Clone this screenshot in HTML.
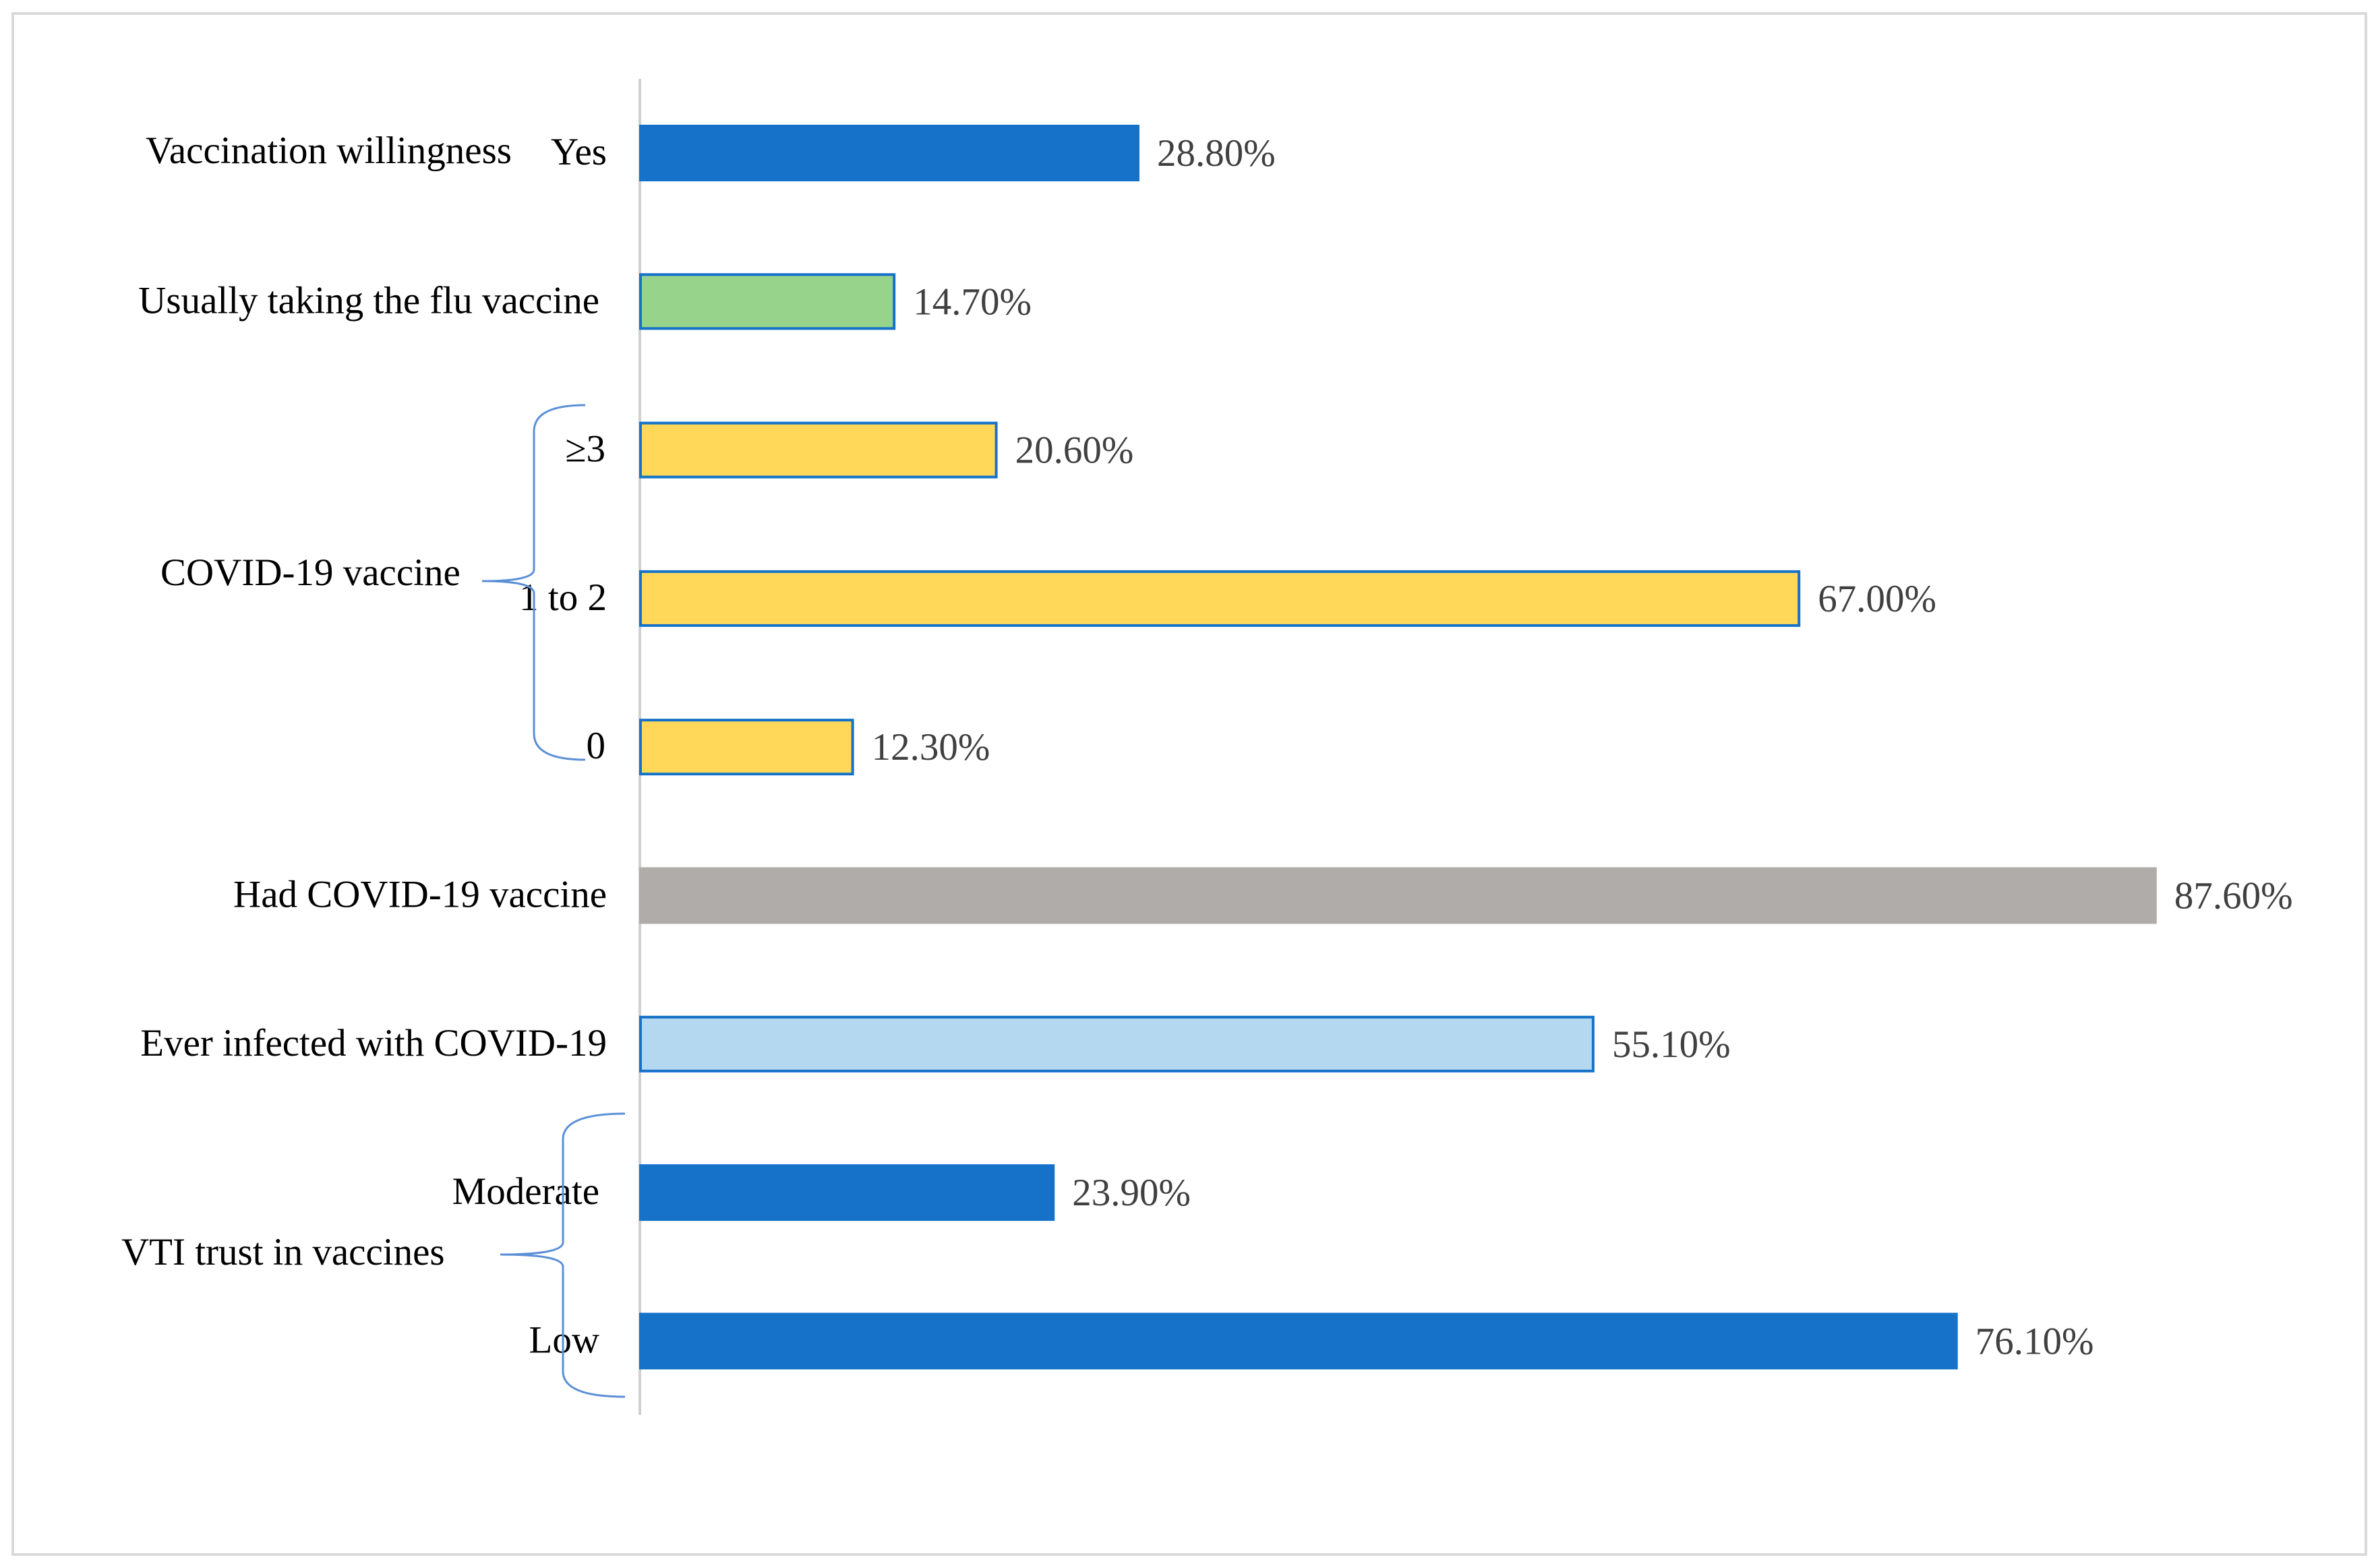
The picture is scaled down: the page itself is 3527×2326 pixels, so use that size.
<!DOCTYPE html>
<html><head><meta charset="utf-8"><style>
html,body{margin:0;padding:0;background:#fff;}
svg{display:block;}
text{font-family:"Liberation Serif","Times New Roman",serif;}
</style></head><body>
<svg id="chart" width="3527" height="2326" viewBox="0 0 3527 2326" xmlns="http://www.w3.org/2000/svg">
<rect x="19" y="20" width="3490" height="2286" fill="#fff" stroke="#d9d9d9" stroke-width="4"/>
<line x1="949" y1="117" x2="949" y2="2099" stroke="#d0d0d0" stroke-width="4"/>
<g id="bars"></g>
<text x="216" y="242" font-size="57" fill="#000">Vaccination willingness</text>
<text x="238" y="868" font-size="57" fill="#000">COVID-19 vaccine</text>
<text x="180" y="1876" font-size="57" fill="#000">VTI trust in vaccines</text>
<path d="M868,601 Q792,601 792,640 L792,845 Q792,862 715,862 Q792,862 792,880 L792,1088 Q792,1127 868,1127" fill="none" stroke="#5b8fd6" stroke-width="3"/>
<path d="M927,1652 Q835,1652 835,1690 L835,1843 Q835,1861 742,1861 Q835,1861 835,1879 L835,2034 Q835,2072 927,2072" fill="none" stroke="#5b8fd6" stroke-width="3"/>
</svg>
<script>
const categories = ["Yes","Usually taking the flu vaccine","\u22653","1 to 2","0","Had COVID-19 vaccine","Ever infected with COVID-19","Moderate","Low"];
const values = [28.8,14.7,20.6,67.0,12.3,87.6,55.1,23.9,76.1];
const valueLabels = ["28.80%","14.70%","20.60%","67.00%","12.30%","87.60%","55.10%","23.90%","76.10%"];
const fills = ["#1572C8","#97D38A","#FFD85A","#FFD85A","#FFD85A","#B0ACAA","#B4D8F0","#1572C8","#1572C8"];
const strokes = ["#1572C8","#1572C8","#1572C8","#1572C8","#1572C8","#B0ACAA","#1572C8","#1572C8","#1572C8"];
const labelRight = [900,889,898,900,898,900,900,889,889];

const NS="http://www.w3.org/2000/svg";
const x0=949, pxPer=25.66, y0=227, step=220.3, bh=80;
function xScale(v){return x0+v*pxPer;}
function yScale(i){return y0+i*step;}
const g=document.getElementById('bars');
categories.forEach((c,i)=>{
  const yc=yScale(i);
  const r=document.createElementNS(NS,'rect');
  
  
  r.setAttribute('x',x0+1);
  r.setAttribute('y',yc-bh/2);
  r.setAttribute('width',xScale(values[i])-x0-1);
  r.setAttribute('height',bh);
  r.setAttribute('fill',fills[i]);
  r.setAttribute('stroke',strokes[i]);
  r.setAttribute('stroke-width','4');
  g.appendChild(r);
  const v=document.createElementNS(NS,'text');
  
  
  v.setAttribute('x',xScale(values[i])+28);
  v.setAttribute('y',yc+19);
  v.setAttribute('font-size','57');
  v.setAttribute('fill','#404040');
  v.textContent=valueLabels[i];
  g.appendChild(v);
  const t=document.createElementNS(NS,'text');
  
  
  t.setAttribute('x',labelRight[i]);
  t.setAttribute('y',yc+17);
  t.setAttribute('font-size','57');
  t.setAttribute('text-anchor','end');
  t.setAttribute('fill','#000');
  t.textContent=c;
  g.appendChild(t);
});
</script>
</body></html>
